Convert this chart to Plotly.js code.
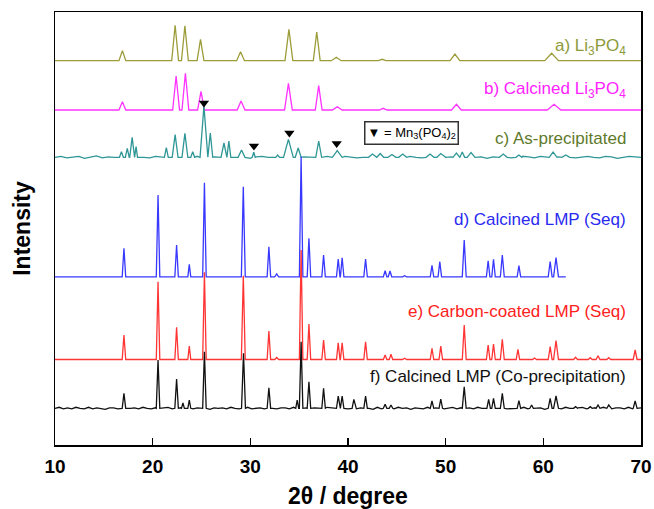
<!DOCTYPE html>
<html>
<head>
<meta charset="utf-8">
<script src="https://cdn.plot.ly/plotly-3.0.1.min.js"></script>
<style>html,body{margin:0;padding:0;background:#fff;}#chart{width:654px;height:509px;}</style>
</head>
<body>
<div id="chart"></div>
<script>
// ---- data (2theta in degrees, intensity in arbitrary stacked units) ----
// each peak: [position, apex intensity, half-width]
const aBase = 384.3;
const aPeaks = [[16.9,394.3,0.35],[22.3,419.7,0.35],[23.3,419.3,0.35],[24.9,405.7,0.35],[29.0,393.3,0.4],
  [33.95,415.7,0.4],[36.8,413,0.35],[38.8,387.7,0.5],[43.5,385.7,0.4],[50.95,391,0.5],[60.85,391.7,0.7]];
const bBase = 335;
const bPeaks = [[16.9,343.3,0.35],[22.4,369,0.35],[23.35,371.7,0.35],[24.95,353.7,0.35],[29.05,344,0.4],
  [33.9,361.7,0.4],[37.0,359.3,0.35],[38.9,338.3,0.5],[43.6,336.7,0.4],[51.1,340.7,0.5],[61.1,340.7,0.7]];
const cBase = 287.7;
const cPeaks = [[16.8,293.3,0.2],[17.4,296.7,0.2],[17.9,307.7,0.25],[18.3,298.3,0.15],[21.4,297.3,0.2],
  [22.3,310.3,0.3],[23.3,311.7,0.3],[24.1,293.3,0.2],[25.25,339,0.4],[25.9,312,0.25],[27.3,302,0.3],
  [27.8,304,0.2],[29.1,295,0.35],[30.35,292.7,0.15],[32.8,290,0.2],[33.9,305.7,0.5],[34.9,297,0.3],
  [37.0,304,0.3],[38.9,294.3,0.5],[42.5,291,0.4],[43.3,291.5,0.35],[44.5,290.5,0.4],[45.6,291,0.4],
  [48.4,291,0.4],[49.5,291.5,0.4],[51.1,292,0.35],[51.7,293,0.25],[52.6,292.5,0.4],[55.9,291,0.4],
  [57.5,290,0.3],[61.0,293,0.4],[62.3,290,0.4]];
// baseline roughness of pattern c, read across 10-70 degrees
const cNoise = [0,1,-0.5,0.5,1,-1,0,1.5,-0.5,0.5,0,1,-1,0.5,1,0,-0.5,1,0.5,-1,
  1,0,0.5,-0.5,1,0,-1,0.5,1,-0.5,0,1,0.5,-1,0.5,1,0,-0.5,1,0,
  -0.5,1,0.5,0,-1,0.5,1,0,-0.5,1,0.5,-0.5,0,1,-1,0.5,0,1,-0.5,0.5,
  1,0,-0.5,0.5,1,-1,0,0.5,1,-0.5,0,1,0.5,-1,0.5,0,1,-0.5,0,1,
  0.5,-0.5,1,0,-1,0.5,1,0,-0.5,0.5,1,0,-0.5,1,0.5,-1,0,1,0.5,0];
const dBase = 168.2;
const dEnd = 62.3;
const dPeaks = [[17.06,196.7,0.18],[20.55,250,0.18],[22.45,200,0.18],[23.75,180.7,0.15],[25.3,262.3,0.18],
  [29.28,258.3,0.2],[31.9,198.3,0.18],[32.7,171,0.2],[35.2,288.3,0.18],[36.0,206.7,0.18],[37.5,190,0.18],
  [39.0,186,0.18],[39.4,187.3,0.18],[41.8,186,0.18],[43.8,174.3,0.18],[44.3,174,0.18],[45.8,169.3,0.2],
  [48.6,179.7,0.18],[49.4,183.3,0.18],[51.9,205,0.2],[54.35,184.3,0.18],[54.9,185.7,0.18],[55.8,190,0.2],
  [57.5,179.3,0.18],[60.7,183.3,0.2],[61.3,187.3,0.25]];
const eBase = 85.5;
const ePeaks = [[17.06,110,0.18],[20.55,163.3,0.18],[22.45,117.7,0.18],[23.75,99,0.15],[25.3,172.7,0.18],
  [29.28,169.3,0.2],[31.9,114,0.18],[32.7,87.5,0.2],[35.2,195,0.18],[36.0,121,0.18],[37.5,105,0.18],
  [39.0,102.3,0.18],[39.4,102.3,0.18],[41.8,103.3,0.18],[43.8,90,0.18],[44.4,90.7,0.18],[45.8,86.7,0.2],
  [48.6,96.7,0.18],[49.5,99,0.18],[51.9,120,0.2],[54.35,100,0.18],[54.9,101,0.18],[55.8,105.7,0.2],
  [57.4,95.7,0.18],[59.1,87,0.2],[60.7,98.3,0.2],[61.3,104.3,0.25],[63.3,87.7,0.2],[64.8,87.3,0.2],
  [65.6,89.3,0.2],[66.7,87.3,0.2],[69.4,95,0.2]];
const fBase = 36.7;
const fPeaks = [[17.06,51.7,0.18],[20.55,85,0.18],[22.45,66,0.18],[23.1,42,0.15],[23.75,45,0.15],[25.3,93.3,0.18],
  [29.3,91.7,0.2],[31.9,57.3,0.18],[34.8,45,0.15],[35.2,103.3,0.18],[36.0,63.3,0.18],[37.5,56.7,0.18],
  [39.0,49,0.18],[39.4,49,0.18],[40.6,45.7,0.18],[41.8,49,0.18],[43.8,40.7,0.18],[44.4,40,0.18],
  [48.6,44,0.18],[49.5,46,0.18],[51.9,58.3,0.2],[54.4,45.7,0.18],[54.9,46.7,0.18],[55.8,51.7,0.2],
  [57.5,44.3,0.18],[58.8,40,0.18],[60.7,46.7,0.2],[61.3,49,0.25],[63.3,38.3,0.2],[64.8,38.3,0.2],
  [65.6,40,0.2],[66.7,40,0.2],[69.4,44,0.2]];
// baseline roughness of pattern f, read across 10-70 degrees
const fNoise = [0,1,-0.5,0.5,-0.5,1,0,-0.5,1,-0.5,0.5,0,-1,0.5,0.5,-0.5,1,-0.5,0,0.5,
  -0.5,1,0,-0.5,0.5,-1,0.5,1,-0.5,0,0.5,-0.5,1,-0.5,0.5,0,1,-1,0.5,0,
  0.5,-0.5,1,0,-0.5,0.5,1,-0.5,0,0.5,-0.5,1,0,-0.5,0.5,0.5,-0.5,1,-0.5,0,
  0.5,-0.5,0.5,0,-1,1,0.5,-0.5,0.5,0,-0.5,1,-0.5,0.5,0.5,0,-1,1,-0.5,0,
  0.5,-0.5,1,0,0.5,-1,0.5,0,-0.5,1,-0.5,0.5,0.5,-0.5,0,1,-0.5,0.5,0,0.5,
  -0.5,1,0,-0.5,0.5,-1,0.5,1,-0.5,0,0.5,-0.5,1,-0.5,0.5,0,0.5,-1,0.5,0,
  0.5,-0.5,1,0,-0.5,0.5,1,-0.5,0,0.5,-0.5,1,0,-0.5,0.5,0.5,-0.5,1,-0.5,0,0.5];
// Mn3(PO4)2 reflections marked on pattern c
const markX = [25.25, 30.37, 34.0, 38.84];
const markY = [342, 299, 312, 301.5];
const labels = ['a) Li<sub>3</sub>PO<sub>4</sub>', 'b) Calcined Li<sub>3</sub>PO<sub>4</sub>', 'c) As-precipitated',
  'd) Calcined LMP (Seq)', 'e) Carbon-coated LMP (Seq)', 'f) Calcined LMP (Co-precipitation)'];
const labelY = [398.3, 355, 306.7, 226, 133.3, 68.3];

// ---- build each pattern as a polyline through the read peaks ----
function pattern(base, peaks, xEnd, noise) {
  const pts = [];
  peaks.forEach(p => { pts.push([p[0]-p[2], base], [p[0], p[1]], [p[0]+p[2], base]); });
  const inPeak = x => peaks.some(p => x > p[0]-p[2]-0.05 && x < p[0]+p[2]+0.05);
  if (noise) {
    const step = (xEnd - 10) / (noise.length - 1);
    noise.forEach((v, i) => { const x = 10 + i*step; if (!inPeak(x)) pts.push([x, base + v]); });
  } else {
    pts.push([10, base], [xEnd, base]);
  }
  pts.sort((u, v) => u[0] - v[0]);
  return {x: pts.map(p => p[0]), y: pts.map(p => p[1])};
}
const colors = ['#9c9c3a', '#ff33ff', '#2f9696', '#3838ff', '#ff3535', '#111111'];
const labelColors = ['#8c9a3a', '#ff22ff', '#5f7a2c', '#2a2af0', '#ff2020', '#111111'];
const sets = [pattern(aBase,aPeaks,70), pattern(bBase,bPeaks,70), pattern(cBase,cPeaks,70,cNoise),
  pattern(dBase,dPeaks,dEnd), pattern(eBase,ePeaks,70), pattern(fBase,fPeaks,70,fNoise)];
const traces = sets.map((s,i) => ({x:s.x, y:s.y, type:'scatter', mode:'lines',
  line:{color:colors[i], width:1.3}, hoverinfo:'skip', showlegend:false}));
traces.push({x:markX, y:markY, type:'scatter', mode:'markers',
  marker:{symbol:'triangle-down', size:9, color:'#000'}, showlegend:false});

const FONT = 'Liberation Sans, Arial, sans-serif';
const annotations = labels.map((t,i) => ({x:68.7, y:labelY[i], xref:'x', yref:'y', xanchor:'right', yanchor:'middle',
  text:t, showarrow:false, font:{family:FONT, size:17, color:labelColors[i]}}));
annotations.push({x:46.45, y:312, xref:'x', yref:'y', xanchor:'center', yanchor:'middle',
  text:'▼ = Mn<sub>3</sub>(PO<sub>4</sub>)<sub>2</sub>', showarrow:false,
  font:{family:FONT, size:13, color:'#000'}, bordercolor:'#333', borderwidth:1.5, borderpad:2, bgcolor:'#fff'});

const layout = {
  width:654, height:509,
  margin:{l:55, r:13, t:12, b:64},
  paper_bgcolor:'#fff', plot_bgcolor:'#fff',
  showlegend:false,
  xaxis:{range:[10,70], tick0:10, dtick:10, ticks:'inside', ticklen:7, tickwidth:1.5, tickcolor:'#000',
    showline:true, linewidth:1.5, linecolor:'#000', mirror:true, showgrid:false, zeroline:false,
    ticklabelstandoff:4,
    tickfont:{family:FONT, size:19, color:'#000', weight:'bold'},
    title:{text:'2θ / degree', font:{family:FONT, size:23, color:'#000', weight:'bold'}, standoff:16}},
  yaxis:{range:[0,433], showticklabels:false, ticks:'', showline:true, linewidth:1.5, linecolor:'#000',
    mirror:true, showgrid:false, zeroline:false,
    title:{text:'Intensity', font:{family:FONT, size:23, color:'#000', weight:'bold'}, standoff:16}},
  annotations: annotations
};
Plotly.newPlot('chart', traces, layout, {displayModeBar:false, staticPlot:true});
</script>
</body>
</html>
